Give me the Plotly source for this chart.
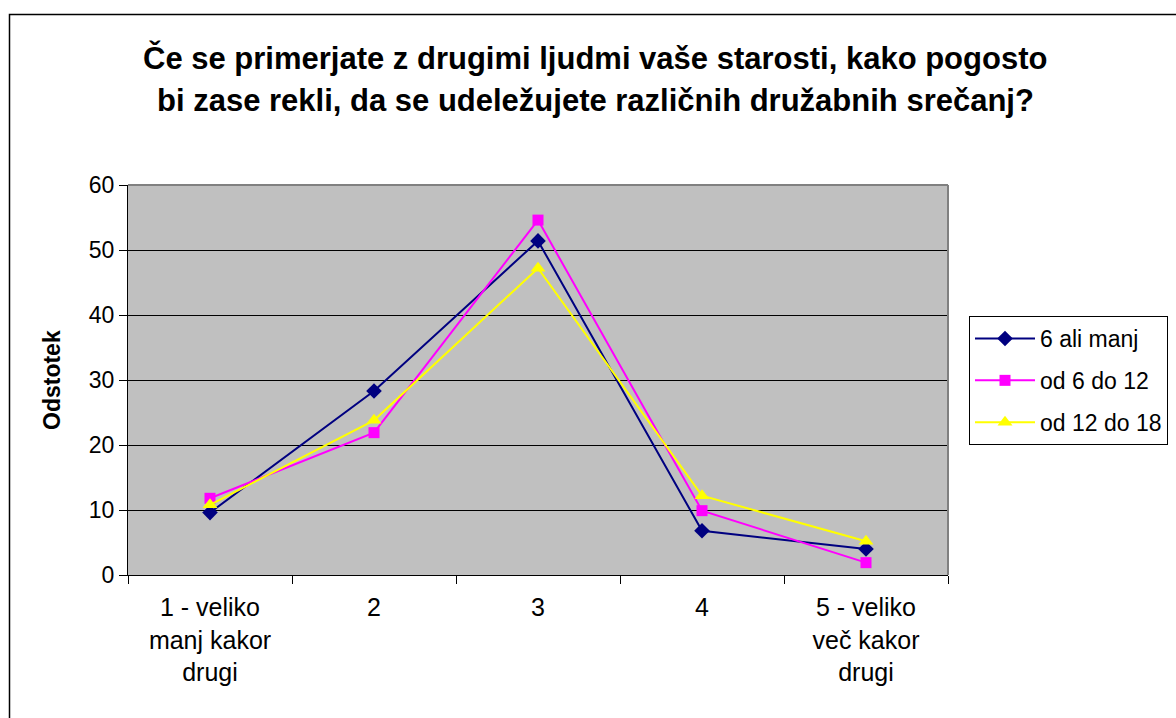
import plotly.graph_objects as go

categories = ["1 - veliko<br>manj kakor<br>drugi", "2", "3", "4", "5 - veliko<br>več kakor<br>drugi"]
series_names = ["6 ali manj", "od 6 do 12", "od 12 do 18"]
s1 = [9.6, 28.3, 51.4, 6.8, 4.0]
s2 = [11.8, 21.9, 54.6, 9.9, 1.9]
s3 = [10.8, 23.8, 47.2, 12.2, 5.2]
y_ticks = [0, 10, 20, 30, 40, 50, 60]
title_lines = ["Če se primerjate z drugimi ljudmi vaše starosti, kako pogosto",
               "bi zase rekli, da se udeležujete različnih družabnih srečanj?"]
y_title = "Odstotek"

colors = ["#000080", "#FF00FF", "#FFFF00"]
symbols = ["diamond", "square", "triangle-up"]
sizes = [12, 11, 13]

fig = go.Figure()
for i, (name, vals) in enumerate(zip(series_names, [s1, s2, s3])):
    fig.add_trace(go.Scatter(
        x=categories, y=vals, name=name, mode="lines+markers",
        line=dict(color=colors[i], width=2),
        marker=dict(symbol=symbols[i], size=sizes[i], color=colors[i]),
        legendgroup=f"g{i}",
    ))

W, H = 1176, 718
L, R, T, B = 128, 228, 185, 143
pw, ph = W - L - R, H - T - B

def px(x):
    return (x - L) / pw

def py(y):
    return (H - B - y) / ph

font = "Arial, Liberation Sans, sans-serif"

fig.update_layout(
    width=W, height=H,
    margin=dict(l=L, r=R, t=T, b=B, autoexpand=False),
    paper_bgcolor="white", plot_bgcolor="#C0C0C0",
    font=dict(family=font, color="black", size=23),
    showlegend=True,
    legend=dict(
        x=px(969), y=py(316), xanchor="left", yanchor="top",
        bordercolor="black", borderwidth=1, bgcolor="white",
        font=dict(size=23), traceorder="grouped", tracegroupgap=9,
        itemwidth=60,
    ),
    xaxis=dict(
        type="category", range=[-0.5, 4.5],
        showline=True, linecolor="black", linewidth=1,
        ticks="outside", tickson="boundaries", ticklen=8, tickcolor="black",
        showgrid=False, tickfont=dict(size=25), ticklabelstandoff=10,
    ),
    yaxis=dict(
        range=[0, 60], tickvals=y_ticks,
        showline=True, linecolor="black", linewidth=1,
        ticks="outside", ticklen=8, tickcolor="black",
        showgrid=True, gridcolor="black", gridwidth=1,
        tickfont=dict(size=23), zeroline=False,
    ),
    shapes=[
        dict(type="line", xref="paper", yref="paper", x0=0, x1=1, y0=1, y1=1,
             line=dict(color="#808080", width=2), layer="above"),
        dict(type="line", xref="paper", yref="paper", x0=1, x1=1, y0=0, y1=1,
             line=dict(color="#808080", width=2), layer="above"),
        dict(type="rect", xref="paper", yref="paper",
             x0=px(9.5), x1=px(1200), y0=py(14.5), y1=py(740),
             line=dict(color="black", width=1.5), layer="above"),
    ],
    annotations=[
        dict(text=f"<b>{title_lines[0]}</b>", x=px(595), y=py(58), xref="paper", yref="paper",
             showarrow=False, font=dict(size=31), xanchor="center", yanchor="middle"),
        dict(text=f"<b>{title_lines[1]}</b>", x=px(595), y=py(100), xref="paper", yref="paper",
             showarrow=False, font=dict(size=31), xanchor="center", yanchor="middle"),
        dict(text=f"<b>{y_title}</b>", x=px(52), y=py(380), xref="paper", yref="paper",
             showarrow=False, font=dict(size=23), textangle=-90,
             xanchor="center", yanchor="middle"),
    ],
)

fig.write_html("out.html", config={"displayModeBar": False},
               post_script="document.body.style.margin='0';document.body.style.overflow='hidden';")
